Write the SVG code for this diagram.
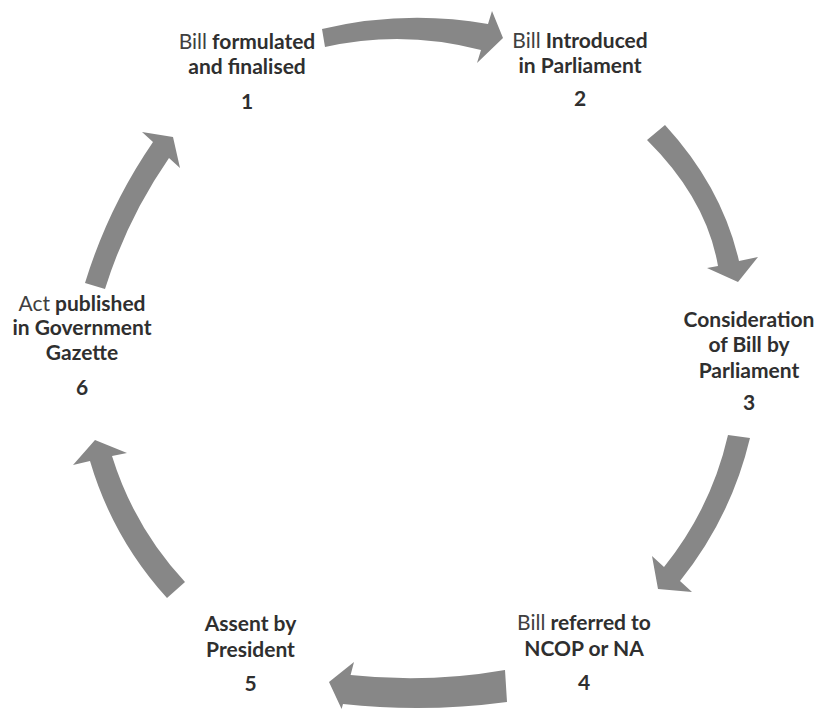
<svg xmlns="http://www.w3.org/2000/svg" width="818" height="709" viewBox="0 0 818 709">
  <style>
    .arrow { fill: #878787; stroke: none; }
    .lbl { font-family: Lato, "Liberation Sans", sans-serif; font-size: 21px; fill: #2f2f2f; text-anchor: middle; font-weight: 700; }
    .reg { font-weight: 400; fill: #404040; }
  </style>
  <rect width="818" height="709" fill="#ffffff"/>

  <!-- curved block arrows running clockwise round the cycle -->
  <g id="connectors">
    <path id="arrow-1-2" class="arrow" d="M322,29 Q405,9.5 488,24 L492,11 L503,38 L477,63 L481,50 Q403,29.5 325,47 Z"/>
    <path id="arrow-2-3" class="arrow" d="M647,140 L665,125 Q722,187 739,261 L758,257 L738,282 L707,268 L718,266 Q706.5,199 647,140 Z"/>
    <path id="arrow-3-4" class="arrow" d="M728,435 L750,438 Q731,517.5 680,581 L692,592 L658,589 L652,556 L664,567 Q711.2,508.4 728,435 Z"/>
    <path id="arrow-4-5" class="arrow" d="M505,670 Q428,683.5 350.6,675 L354,662 L329,682 L341.6,709 L343,704 Q425,713 507,702 Z"/>
    <path id="arrow-5-6" class="arrow" d="M167,598 L185,582 Q134.1,527.2 112,456 L127,453 L95,440 L73,465 L90,461 Q112.7,538.3 167,598 Z"/>
    <path id="arrow-6-1" class="arrow" d="M85,283 L105,289 Q127,218.7 169,158 L180,168 L173,137 L142,132 L153,142 Q108.2,207.3 85,283 Z"/>
  </g>

  <g id="step-1">
    <text class="lbl" x="247" y="49"><tspan class="reg">Bill</tspan> formulated</text>
    <text class="lbl" x="247" y="74">and finalised</text>
    <text class="lbl" x="247" y="109">1</text>
  </g>

  <g id="step-2">
    <text class="lbl" x="580" y="48"><tspan class="reg">Bill</tspan> Introduced</text>
    <text class="lbl" x="580" y="73">in Parliament</text>
    <text class="lbl" x="580" y="106">2</text>
  </g>

  <g id="step-3">
    <text class="lbl" x="749" y="327">Consideration</text>
    <text class="lbl" x="749" y="352">of Bill by</text>
    <text class="lbl" x="749" y="378">Parliament</text>
    <text class="lbl" x="749" y="410">3</text>
  </g>

  <g id="step-4">
    <text class="lbl" x="584" y="630"><tspan class="reg">Bill</tspan> referred to</text>
    <text class="lbl" x="584" y="655.5">NCOP or NA</text>
    <text class="lbl" x="584" y="690">4</text>
  </g>

  <g id="step-5">
    <text class="lbl" x="250.5" y="631">Assent by</text>
    <text class="lbl" x="250.5" y="656.5">President</text>
    <text class="lbl" x="250.5" y="691">5</text>
  </g>

  <g id="step-6">
    <text class="lbl" x="82" y="310.5"><tspan class="reg">Act</tspan> published</text>
    <text class="lbl" x="82" y="335">in Government</text>
    <text class="lbl" x="82" y="360">Gazette</text>
    <text class="lbl" x="82" y="395">6</text>
  </g>
</svg>
